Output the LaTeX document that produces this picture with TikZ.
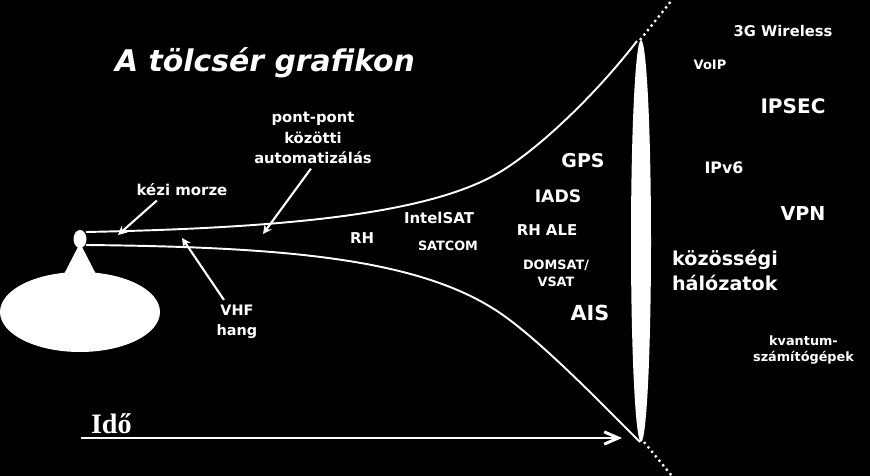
\documentclass[tikz,border=0pt]{standalone}
\usepackage{fontspec}
\setmainfont{DejaVu Sans}
\newfontfamily\timesfont{Liberation Serif}
\usepackage{tikz}
\usetikzlibrary{arrows.meta}

\begin{document}
\begin{tikzpicture}[x=0.02cm, y=-0.02cm,
  lbl/.style args={#1/#2}{text=white, align=center, inner sep=1pt, font=\bfseries\fontsize{#1}{#2}\selectfont},
  funnel/.style={white, line width=1.1pt},
  callout/.style={white, line width=1.2pt, shorten <=2pt, -{Stealth[length=5pt,width=5pt]}}]
\fill[black] (0,0) rectangle (870,476);
\useasboundingbox (0,0) rectangle (870,476);
\fill[white] (80,312) ellipse [x radius=80, y radius=40];
\fill[white] (80,243) -- (61,280) -- (99,280) -- cycle;
\fill[white] (80,239) ellipse [x radius=6.5, y radius=9];
\draw[funnel] (86,232) .. controls (286,228) and (430,214) .. (500,172) .. controls (540,148) and (597,93) .. (637,41);
\draw[funnel] (86,245) .. controls (286,247) and (420,258.6) .. (500,313) .. controls (540,340.2) and (600,402) .. (640,442);
\fill[white] (641,241) ellipse [x radius=10, y radius=201];
\draw[white, dotted, line width=1.3pt] (640,40) -- (672,0);
\draw[white, dotted, line width=1.3pt] (644,442) -- (672,476);
\node[text=white, anchor=base, font=\bfseries\itshape\fontsize{17}{20}\selectfont] (cim) at (265,71.7) {A tölcsér grafikon};
\node[lbl=8.5/11.6] (kezi) at (182,190) {kézi morze};
\node[lbl=8.4/11.6] (pont) at (313,138) {pont-pont\\közötti\\automatizálás};
\node[lbl=8.2/11.7] (vhf) at (237,322) {VHF\\hang};
\node[lbl=8.5/10] (rh) at (362,238) {RH};
\node[lbl=8.5/10] (intelsat) at (439,218) {IntelSAT};
\node[lbl=7.3/9] (satcom) at (448,246) {SATCOM};
\node[lbl=10.8/12] (gps) at (583,161) {GPS};
\node[lbl=9.8/12] (iads) at (558,196) {IADS};
\node[lbl=8.5/10] (rhale) at (547,230) {RH ALE};
\node[lbl=7.3/9.6] (domsat) at (556,273.5) {DOMSAT/\\VSAT};
\node[lbl=11.8/14] (ais) at (590,313) {AIS};
\node[lbl=8.4/10] (wireless) at (783,31) {3G Wireless};
\node[lbl=7.4/9] (voip) at (710,65) {VoIP};
\node[lbl=11.4/14] (ipsec) at (793,106) {IPSEC};
\node[lbl=9/11] (ipv6) at (724,168) {IPv6};
\node[lbl=10.9/13] (vpn) at (803,214) {VPN};
\node[lbl=10.9/14.7, align=left, anchor=west] (kozossegi) at (670,270.5) {közösségi\\hálózatok};
\node[lbl=7.3/9.5] (kvantum) at (803.5,350) {kvantum-\\számítógépek};
\coordinate (morzetip) at (118,235);
\coordinate (ponttip) at (263,234);
\coordinate (vhftip) at (182,238);
\draw[callout] (kezi.-160) -- (morzetip);
\draw[callout] (pont.south) -- (ponttip);
\draw[callout] (vhf.120) -- (vhftip);
\coordinate (idostart) at (80.7,438);
\coordinate (idoend) at (622,438);
\draw[white, line width=1.7pt, -{Straight Barb[length=8pt,width=7pt]}] (idostart) -- (idoend);
\node[text=white, anchor=base west, inner sep=0pt, font=\timesfont\bfseries\fontsize{16}{19}\selectfont] (ido) at (90.7,434) {Idő};
\end{tikzpicture}
\end{document}
